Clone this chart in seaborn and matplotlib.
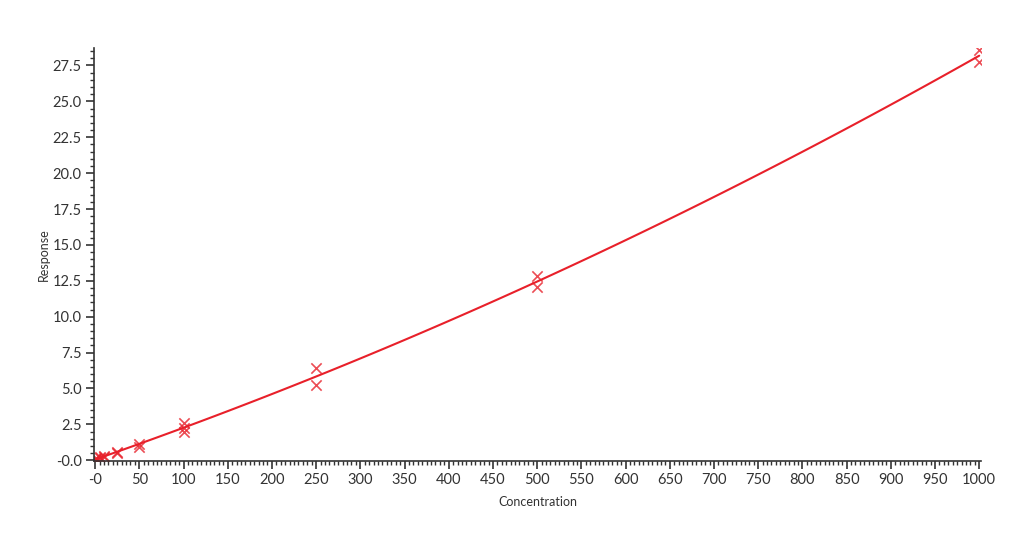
import numpy as np
import pandas as pd
import matplotlib
matplotlib.use('Agg')
import matplotlib.pyplot as plt
import seaborn as sns
from matplotlib.ticker import MultipleLocator

# calibration points
concentracao = [0, 0, 1, 1, 5, 5, 10, 10, 25, 25, 50, 50, 100, 100, 100, 250, 250, 500, 500, 1000, 1000]
resposta = [0.05, 0.1, 0.1, 0.15, 0.15, 0.25, 0.3, 0.25, 0.6, 0.5, 1.15, 0.95, 2.6, 2.25, 1.95, 6.4, 5.25, 12.85, 12.1, 28.6, 27.75]

x_ticks = list(range(0, 1001, 50))
x_labels = ['-0'] + [str(v) for v in x_ticks[1:]]
y_ticks = [0, 2.5, 5, 7.5, 10, 12.5, 15, 17.5, 20, 22.5, 25, 27.5]
y_labels = ['-0.0'] + ['%.1f' % v for v in y_ticks[1:]]

df = pd.DataFrame({'Concentration': concentracao, 'Response': resposta})

sns.set_style('ticks')
plt.rcParams['font.family'] = ['Lato', 'DejaVu Sans']

vermelho = '#e8202a'
fig = plt.figure(figsize=(10.24, 5.36), dpi=100)
ax = fig.add_axes([0.092, 0.14, 0.866, 0.77])

# curva de calibração quadrática ajustada pelos pontos
sns.regplot(x='Concentration', y='Response', data=df, order=2, ci=None, ax=ax,
            marker='x', color=vermelho,
            scatter_kws={'s': 55, 'linewidths': 1.2},
            line_kws={'linewidth': 1.5}, truncate=True)

ax.set_xlim(-1, 1002)
ax.set_ylim(-0.05, 28.7)
ax.set_xticks(x_ticks)
ax.set_xticklabels(x_labels)
ax.set_yticks(y_ticks)
ax.set_yticklabels(y_labels)
ax.xaxis.set_minor_locator(MultipleLocator(5))
ax.yaxis.set_minor_locator(MultipleLocator(0.5))

ax.tick_params(which='major', length=6, width=1.2, color='#333333', labelsize=10.5, labelcolor='#333333', pad=3)
ax.tick_params(which='minor', length=3, width=1, color='#333333')
for s in ['top', 'right']:
    ax.spines[s].set_visible(False)
for s in ['left', 'bottom']:
    ax.spines[s].set_color('#333333')
    ax.spines[s].set_linewidth(1.2)

ax.set_xlabel('Concentration', fontsize=9, color='#333333', labelpad=6)
ax.set_ylabel('Response', fontsize=9, color='#333333', labelpad=2)

fig.savefig('out.png', dpi=100)
plt.close()
